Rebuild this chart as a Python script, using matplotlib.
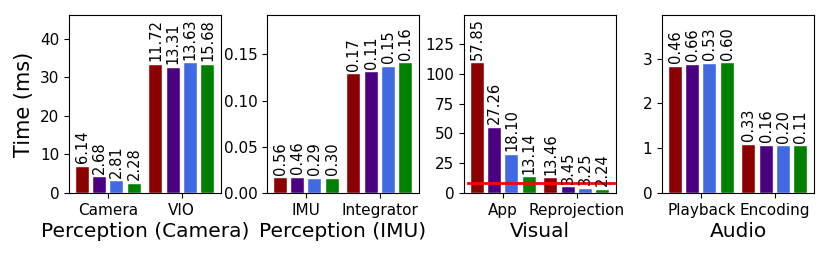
from __future__ import annotations

import matplotlib

matplotlib.use("Agg")
import matplotlib.pyplot as plt
import numpy as np
from matplotlib.ticker import MultipleLocator

# bar colours per platform, same order in every group
COLORS = ["darkred", "indigo", "royalblue", "green"]

# panel titles (x labels) and group names
PANEL_TITLES = ["Perception (Camera)", "Perception (IMU)", "Visual", "Audio"]
GROUP_NAMES = [["Camera", "VIO"], ["IMU", "Integrator"], ["App", "Reprojection"], ["Playback", "Encoding"]]

# mean time (ms)
camera_times = [[6.8, 4.1, 3.0, 2.4], [33.3, 32.5, 33.7, 33.3]]
imu_times = [[0.0162, 0.0167, 0.0152, 0.0152], [0.1288, 0.1306, 0.1368, 0.1407]]
visual_times = [[109.0, 54.8, 32.2, 13.4], [12.6, 5.0, 3.4, 2.8]]
audio_times = [[2.82, 2.86, 2.89, 2.90], [1.08, 1.055, 1.04, 1.04]]

# numbers printed above each bar
camera_labels = [[6.14, 2.68, 2.81, 2.28], [11.72, 13.31, 13.63, 15.68]]
imu_labels = [[0.56, 0.46, 0.29, 0.30], [0.17, 0.11, 0.15, 0.16]]
visual_labels = [[57.85, 27.26, 18.10, 13.14], [13.46, 3.45, 3.25, 2.24]]
audio_labels = [[0.46, 0.66, 0.53, 0.60], [0.33, 0.16, 0.20, 0.11]]

# y tick spacing per panel
Y_STEPS = [10, 0.05, 25, 1]

# frame budget line on the visual panel (ms)
VISUAL_TARGET = 8.33

PITCH = 0.235
WIDTH = 0.173


def _draw_panel(ax, times, labels, groups, title, step):
    times = np.asarray(times)
    centers = np.arange(len(groups))
    offsets = (np.arange(len(COLORS)) - (len(COLORS) - 1) / 2) * PITCH
    for g, center in enumerate(centers):
        for k, color in enumerate(COLORS):
            x = center + offsets[k]
            ax.bar(x, times[g, k], width=WIDTH, color=color, edgecolor="white", linewidth=0.3)
            ax.annotate(
                f"{labels[g][k]:.2f}",
                (x, times[g, k]),
                xytext=(0, 2.5),
                textcoords="offset points",
                rotation=90,
                ha="center",
                va="bottom",
                fontsize=10.5,
            )
    ax.set_xticks(centers)
    ax.set_xticklabels(groups)
    ax.set_ylim(0, times.max() * 1.37)
    ax.yaxis.set_major_locator(MultipleLocator(step))
    ax.set_xlabel(title, fontsize=14.5, labelpad=3)
    ax.tick_params(labelsize=11)


def main() -> int:
    fig = plt.figure(figsize=(8.3, 2.6), dpi=100)
    lefts = [69, 267, 464, 662]
    axes = [fig.add_axes([l / 830, 67 / 260, 152 / 830, 178 / 260]) for l in lefts]

    data = [
        (camera_times, camera_labels),
        (imu_times, imu_labels),
        (visual_times, visual_labels),
        (audio_times, audio_labels),
    ]
    for ax, (times, labels), groups, title, step in zip(axes, data, GROUP_NAMES, PANEL_TITLES, Y_STEPS):
        _draw_panel(ax, times, labels, groups, title, step)

    axes[2].axhline(VISUAL_TARGET, xmin=0.025, xmax=0.985, color="red", linewidth=2)
    axes[0].set_ylabel("Time (ms)", fontsize=15)

    fig.savefig("out.png", dpi=100)
    return 0


if __name__ == "__main__":
    raise SystemExit(main())
